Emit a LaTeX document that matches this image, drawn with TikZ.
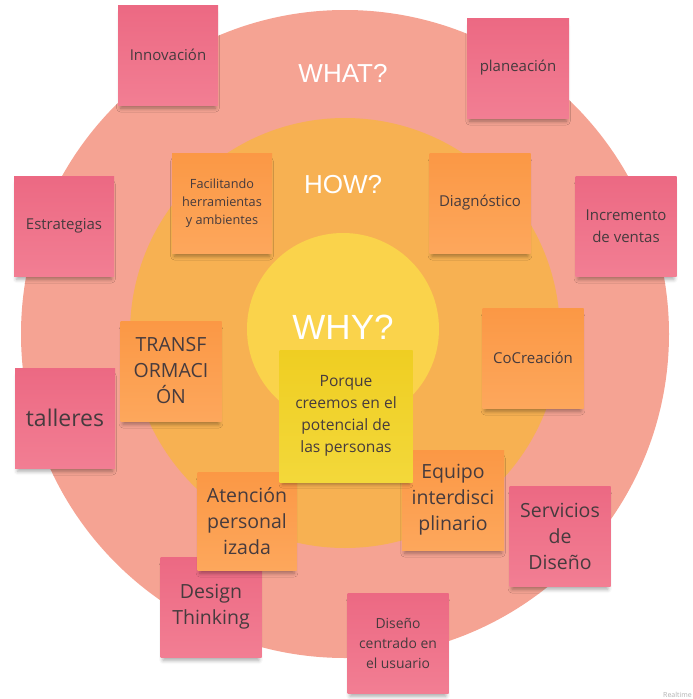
\documentclass[tikz,border=0pt]{standalone}
\usepackage{fontspec}
\setmainfont{Open Sans}
\newfontfamily\askfont{Liberation Sans}
\usetikzlibrary{shadows.blur}

\definecolor{whatring}{HTML}{F5A393}
\definecolor{howring}{HTML}{F7B152}
\definecolor{whycore}{HTML}{FAD34B}
\definecolor{pinktop}{HTML}{EC6983}
\definecolor{pinkbot}{HTML}{F27E93}
\definecolor{orangetop}{HTML}{FB9845}
\definecolor{orangebot}{HTML}{FDA75C}
\definecolor{yellowtop}{HTML}{EFCE22}
\definecolor{yellowbot}{HTML}{F3D83A}
\definecolor{notetext}{HTML}{463B3E}

\tikzset{
  sticky/.style={minimum width=100pt, minimum height=100pt, inner sep=2pt,
    align=center, text=notetext,
    blur shadow={shadow xshift=0pt, shadow yshift=-6pt, shadow opacity=35,
      shadow blur radius=4pt, shadow scale=0.95}},
  pinknote/.style={sticky, top color=pinktop, bottom color=pinkbot},
  orangenote/.style={sticky, top color=orangetop, bottom color=orangebot},
  yellownote/.style={sticky, minimum width=133pt, minimum height=132pt,
    top color=yellowtop, bottom color=yellowbot},
  smalltext/.style={font=\fontsize{12.7}{18}\selectfont},
  midtext/.style={font=\fontsize{15}{21.5}\selectfont},
  bigtext/.style={font=\fontsize{19.5}{26}\selectfont},
  hugetext/.style={font=\fontsize{23}{28}\selectfont},
  asktext/.style={text=white, font=\askfont\fontsize{26}{30}\selectfont}
}

\begin{document}
\begin{tikzpicture}[x=1pt, y=-1pt]
    \useasboundingbox (0,0) rectangle (693,699);

    % The three rings
    \fill[whatring] (345,334) circle (324pt);
    \fill[howring] (345,333) circle (215pt);
    \fill[whycore] (343,329) circle (96pt);

    % Ring titles
    \node[asktext] (what) at (343,73) {WHAT?};
    \node[asktext] (how) at (343,185) {HOW?};
    \node[asktext, font=\askfont\fontsize{35}{40}\selectfont] (why) at (343,327) {WHY?};

    % WHAT notes (pink)
    \node[pinknote, midtext] (innov) at (168,55) {Innovación};
    \node[pinknote, midtext, minimum width=102pt] (plan) at (518,68) {planeación};
    \node[pinknote, midtext] (estrat) at (64,226) {Estrategias};
    \node[pinknote, midtext, minimum width=101pt] (ventas) at (626,226) {Incremento\\de ventas};
    \node[pinknote, hugetext] (talleres) at (65,418) {talleres};
    \node[pinknote, bigtext, minimum width=101pt] (design) at (211,607) {Design\\Thinking};
    \node[pinknote, font=\fontsize{13.9}{20}\selectfont, minimum width=101pt] (usuario) at (398,643) {Diseño\\centrado en\\el usuario};
    \node[pinknote, bigtext, minimum width=101pt] (servicios) at (560,536) {Servicios\\de\\Diseño};

    % HOW notes (orange)
    \node[orangenote, smalltext] (facil) at (222,203) {Facilitando\\herramientas\\y ambientes};
    \node[orangenote, midtext, minimum width=101pt] (diag) at (480,203) {Diagnóstico};
    \node[orangenote, bigtext, minimum width=101pt] (transf) at (171,371) {TRANSF\\ORMACI\\ÓN};
    \node[orangenote, midtext, minimum width=101pt] (cocrea) at (533,358) {CoCreación};
    \node[orangenote, bigtext, minimum width=99pt, minimum height=98pt] (atencion) at (247,521) {Atención\\personal\\izada};
    \node[orangenote, bigtext, minimum width=102pt] (equipo) at (453,500) {Equipo\\interdisci\\plinario};

    % WHY note (yellow)
    \node[yellownote, font=\fontsize{15.6}{22}\selectfont] (porque) at (346,416) {Porque\\creemos en el\\potencial de\\las personas};

    % Watermark
    \node[text=black!30, font=\fontsize{7}{8}\selectfont, anchor=south east, inner sep=1pt] (mark) at (693,699) {Realtime};
\end{tikzpicture}
\end{document}
